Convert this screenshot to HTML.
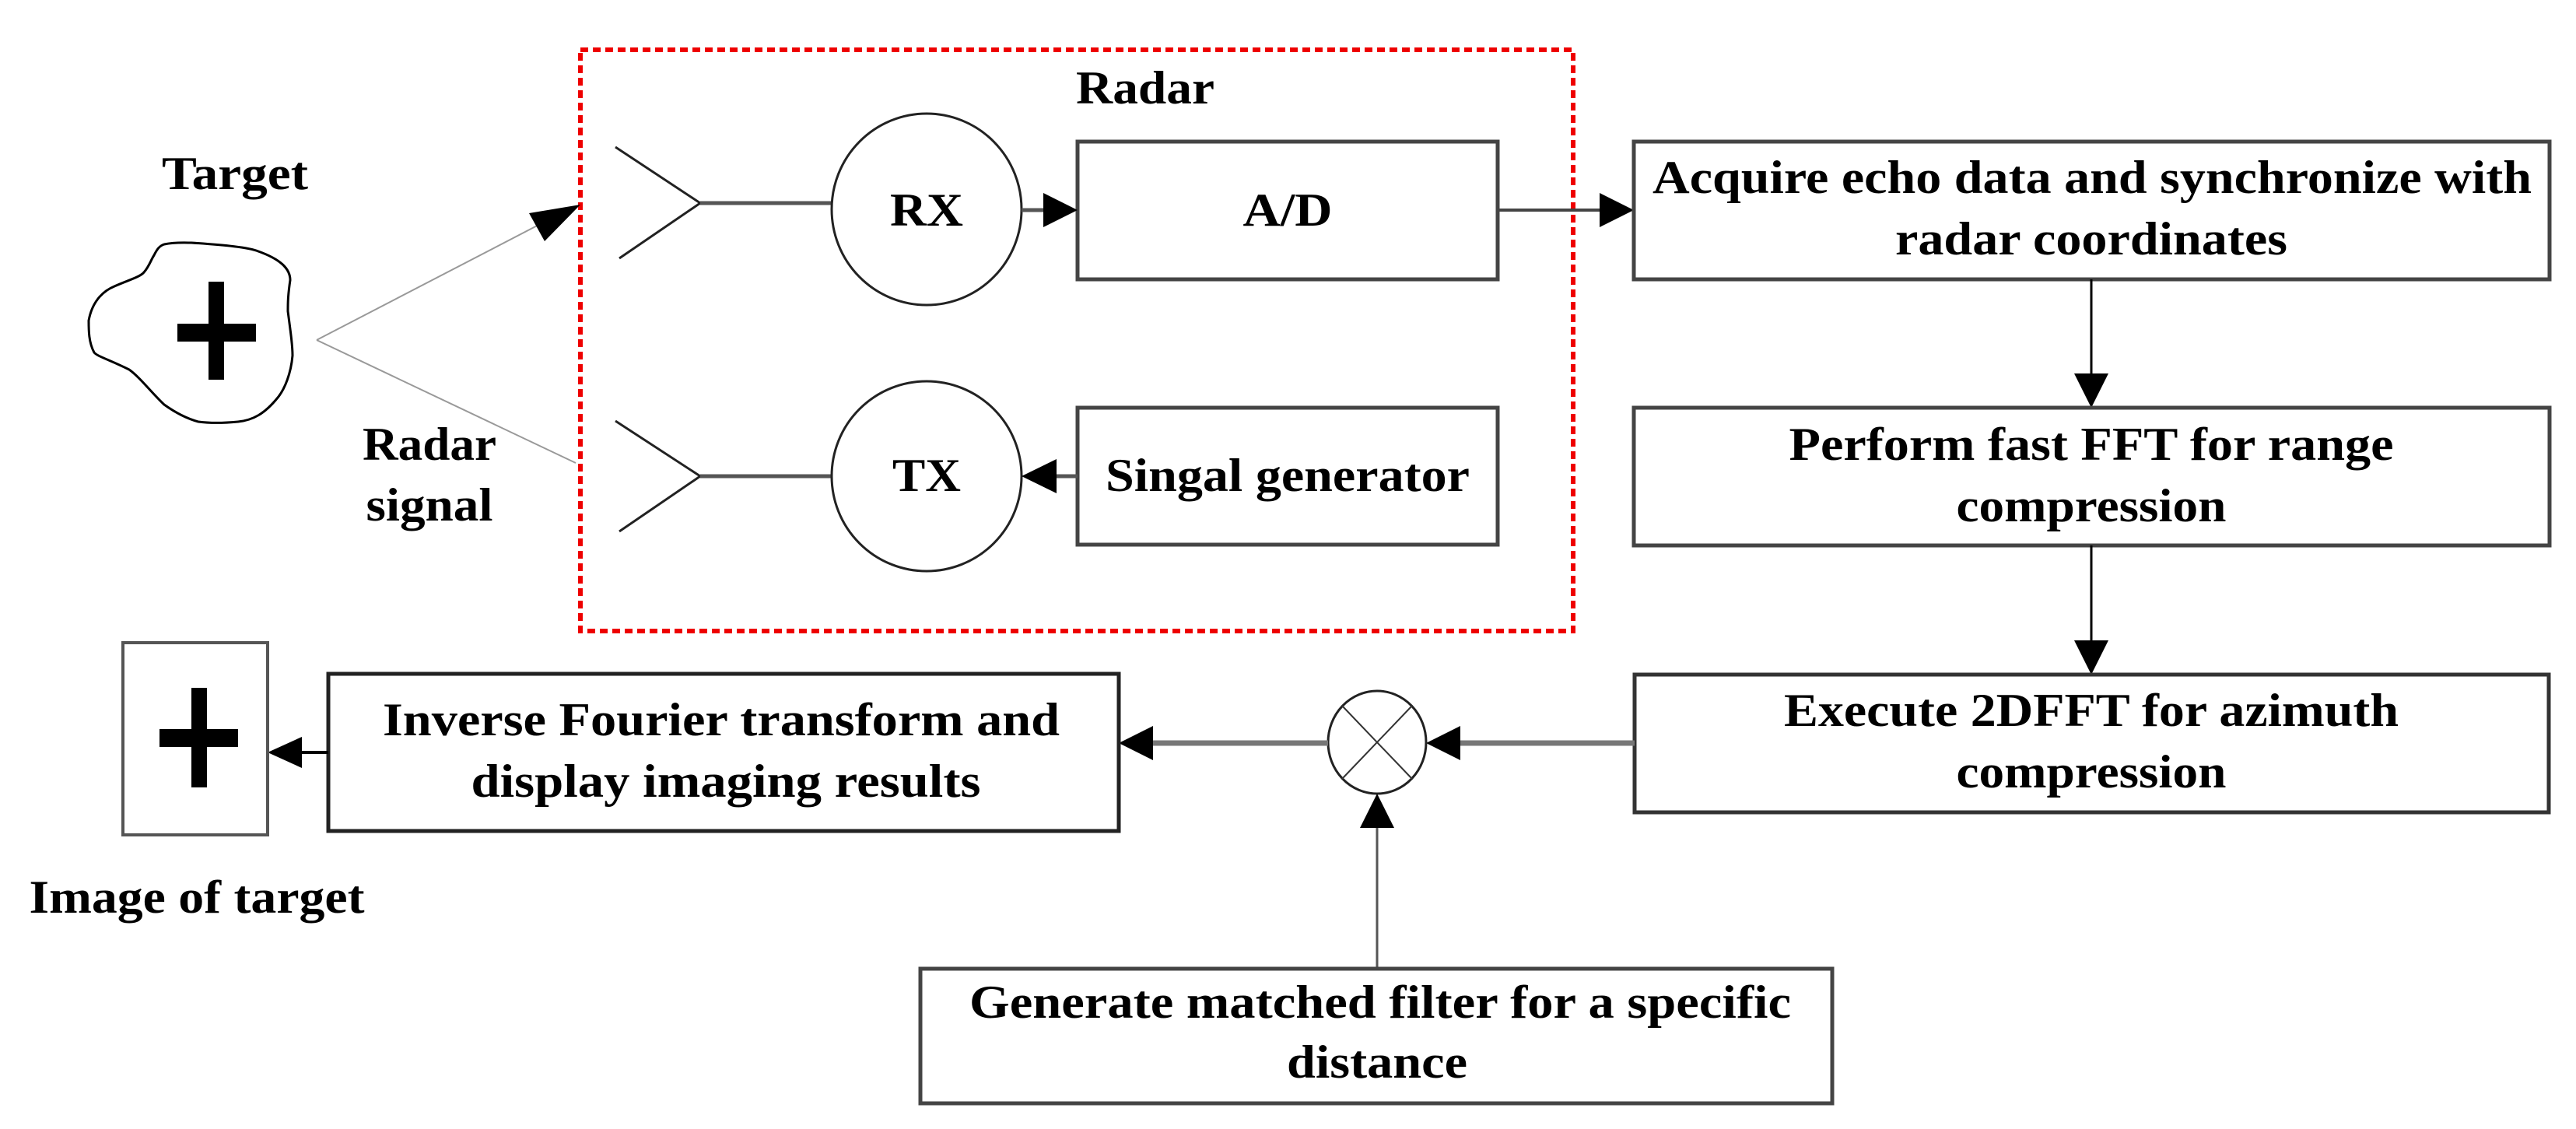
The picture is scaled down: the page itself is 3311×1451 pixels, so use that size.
<!DOCTYPE html>
<html><head><meta charset="utf-8"><style>
html,body{margin:0;padding:0;background:#fff}
svg{display:block}
text{font-family:"Liberation Serif",serif;font-weight:bold;fill:#000;font-size:60px}
</style></head><body>
<svg width="3311" height="1451" viewBox="0 0 3311 1451" xmlns="http://www.w3.org/2000/svg">
<!-- red dashed box -->
<rect x="746" y="64" width="1276" height="747" fill="none" stroke="#e00" stroke-width="6" stroke-dasharray="10,6"/>
<text x="1472" y="133" text-anchor="middle" textLength="178" lengthAdjust="spacingAndGlyphs">Radar</text>
<!-- Target -->
<text x="302" y="243" text-anchor="middle" textLength="188" lengthAdjust="spacingAndGlyphs">Target</text>
<path d="M211,314 C225,311 240,312 246,312 C290,315 320,318 332,323 C360,333 373,345 373,360 C370,380 370,390 370,400 C374,430 376,445 376,457 C374,480 366,500 357,511 C340,532 325,540 306,542 C285,544 270,544 255,542 C240,538 225,530 211,520 C195,505 180,485 166,475 C140,462 125,458 121,453 C114,440 114,425 114,412 C118,390 130,375 147,368 C165,360 180,356 185,350 C192,342 194,334 198,328 C202,320 205,316 211,314 Z" fill="none" stroke="#000" stroke-width="3"/>
<rect x="268" y="362" width="20" height="126" fill="#000"/>
<rect x="228" y="416" width="101" height="23" fill="#000"/>
<!-- signal lines -->
<line x1="407" y1="437" x2="700" y2="285" stroke="#999" stroke-width="2"/>
<polygon points="746,263 680,274 700,310" fill="#000"/>
<line x1="407" y1="437" x2="740" y2="595" stroke="#999" stroke-width="2"/>
<text x="552" y="591" text-anchor="middle" textLength="172" lengthAdjust="spacingAndGlyphs">Radar</text>
<text x="552" y="669" text-anchor="middle" textLength="163" lengthAdjust="spacingAndGlyphs">signal</text>
<!-- antennas -->
<polyline points="791,189 900,261 796,332" fill="none" stroke="#222" stroke-width="3"/>
<line x1="900" y1="261" x2="1069" y2="261" stroke="#555" stroke-width="5"/>
<polyline points="791,541 900,612 796,683" fill="none" stroke="#222" stroke-width="3"/>
<line x1="900" y1="612" x2="1069" y2="612" stroke="#555" stroke-width="5"/>
<!-- circles -->
<ellipse cx="1191" cy="269" rx="122" ry="123" fill="none" stroke="#222" stroke-width="3"/>
<text x="1191" y="290" text-anchor="middle" textLength="94" lengthAdjust="spacingAndGlyphs">RX</text>
<ellipse cx="1191" cy="612" rx="122" ry="122" fill="none" stroke="#222" stroke-width="3"/>
<text x="1191" y="631" text-anchor="middle" textLength="88" lengthAdjust="spacingAndGlyphs">TX</text>
<!-- A/D -->
<rect x="1385" y="182" width="540" height="177" fill="none" stroke="#444" stroke-width="5"/>
<text x="1655" y="290" text-anchor="middle" textLength="115" lengthAdjust="spacingAndGlyphs">A/D</text>
<line x1="1313" y1="270" x2="1345" y2="270" stroke="#555" stroke-width="5"/>
<polygon points="1385,270 1341,248 1341,292" fill="#000"/>
<!-- signal gen -->
<rect x="1385" y="524" width="540" height="176" fill="none" stroke="#444" stroke-width="5"/>
<text x="1655" y="631" text-anchor="middle" textLength="468" lengthAdjust="spacingAndGlyphs">Singal generator</text>
<line x1="1385" y1="612" x2="1350" y2="612" stroke="#555" stroke-width="5"/>
<polygon points="1313,612 1358,590 1358,634" fill="#000"/>
<!-- A/D to acquire -->
<line x1="1925" y1="270" x2="2060" y2="270" stroke="#444" stroke-width="4"/>
<polygon points="2100,270 2056,248 2056,292" fill="#000"/>
<!-- right column -->
<rect x="2100" y="182" width="1177" height="177" fill="none" stroke="#444" stroke-width="5"/>
<text x="2689" y="248" text-anchor="middle" textLength="1130" lengthAdjust="spacingAndGlyphs">Acquire echo data and synchronize with</text>
<text x="2688" y="327" text-anchor="middle" textLength="504" lengthAdjust="spacingAndGlyphs">radar coordinates</text>
<line x1="2688" y1="359" x2="2688" y2="485" stroke="#000" stroke-width="3"/>
<polygon points="2688,524 2666,480 2710,480" fill="#000"/>
<rect x="2100" y="524" width="1177" height="177" fill="none" stroke="#444" stroke-width="5"/>
<text x="2688" y="591" text-anchor="middle" textLength="777" lengthAdjust="spacingAndGlyphs">Perform fast FFT for range</text>
<text x="2688" y="670" text-anchor="middle" textLength="347" lengthAdjust="spacingAndGlyphs">compression</text>
<line x1="2688" y1="701" x2="2688" y2="828" stroke="#000" stroke-width="3"/>
<polygon points="2688,867 2666,823 2710,823" fill="#000"/>
<rect x="2101" y="867" width="1175" height="177" fill="none" stroke="#333" stroke-width="5"/>
<text x="2688" y="933" text-anchor="middle" textLength="790" lengthAdjust="spacingAndGlyphs">Execute 2DFFT for azimuth</text>
<text x="2688" y="1012" text-anchor="middle" textLength="347" lengthAdjust="spacingAndGlyphs">compression</text>
<!-- execute to multiplier -->
<line x1="2101" y1="955" x2="1870" y2="955" stroke="#777" stroke-width="7"/>
<polygon points="1833,955 1877,933 1877,977" fill="#000"/>
<!-- multiplier -->
<ellipse cx="1770" cy="954" rx="63" ry="66" fill="none" stroke="#222" stroke-width="3"/>
<line x1="1725" y1="907" x2="1815" y2="1001" stroke="#333" stroke-width="2"/>
<line x1="1815" y1="907" x2="1725" y2="1001" stroke="#333" stroke-width="2"/>
<line x1="1707" y1="955" x2="1475" y2="955" stroke="#777" stroke-width="7"/>
<polygon points="1438,955 1482,933 1482,977" fill="#000"/>
<!-- generate -->
<line x1="1770" y1="1245" x2="1770" y2="1060" stroke="#555" stroke-width="3"/>
<polygon points="1770,1020 1748,1064 1792,1064" fill="#000"/>
<rect x="1183" y="1245" width="1172" height="173" fill="none" stroke="#444" stroke-width="5"/>
<text x="1774" y="1308" text-anchor="middle" textLength="1056" lengthAdjust="spacingAndGlyphs">Generate matched filter for a specific</text>
<text x="1770" y="1385" text-anchor="middle" textLength="232" lengthAdjust="spacingAndGlyphs">distance</text>
<!-- inverse -->
<rect x="422" y="866" width="1016" height="202" fill="none" stroke="#222" stroke-width="5"/>
<text x="927" y="945" text-anchor="middle" textLength="870" lengthAdjust="spacingAndGlyphs">Inverse Fourier transform and</text>
<text x="933" y="1024" text-anchor="middle" textLength="655" lengthAdjust="spacingAndGlyphs">display imaging results</text>
<line x1="422" y1="967" x2="380" y2="967" stroke="#000" stroke-width="4"/>
<polygon points="344,967 388,947 388,987" fill="#000"/>
<!-- image of target -->
<rect x="158" y="826" width="186" height="247" fill="none" stroke="#555" stroke-width="4"/>
<rect x="246" y="884" width="20" height="128" fill="#000"/>
<rect x="205" y="937" width="101" height="23" fill="#000"/>
<text x="253" y="1173" text-anchor="middle" textLength="431" lengthAdjust="spacingAndGlyphs">Image of target</text>
</svg>
</body></html>
